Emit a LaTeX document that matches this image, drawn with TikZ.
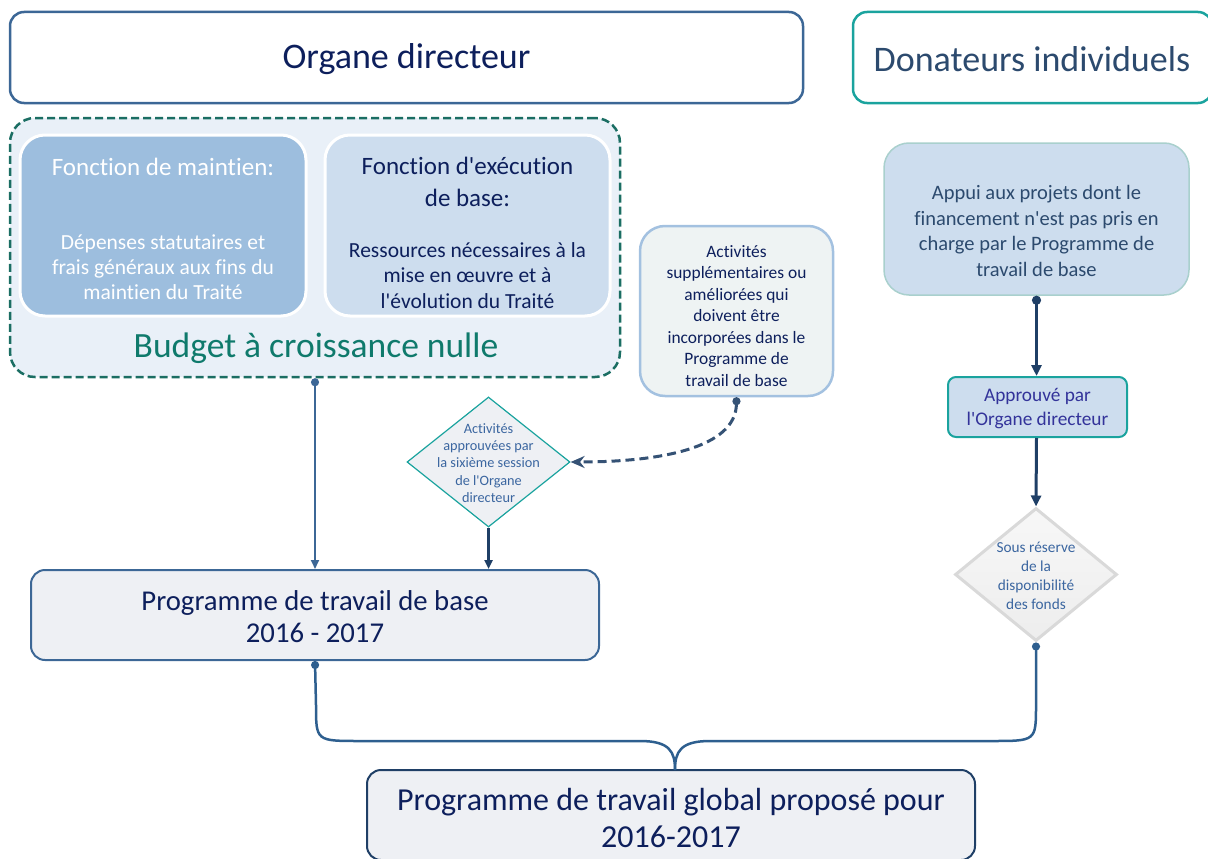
\documentclass[tikz,border=0pt]{standalone}
\usepackage{fontspec}
\newfontfamily\calfont{Carlito}[Ligatures=NoCommon]
\usetikzlibrary{shapes.geometric,arrows.meta}

\definecolor{navyText}{HTML}{0D1F5C}
\definecolor{slateText}{HTML}{2C4A6E}
\definecolor{frameBlue}{HTML}{3C6796}
\definecolor{frameTeal}{HTML}{1AA39E}
\definecolor{dashTeal}{HTML}{1B6E63}
\definecolor{budgetTeal}{HTML}{0F7A6C}
\definecolor{paleBlue}{HTML}{E9F0F8}
\definecolor{midBlue}{HTML}{9DBEDE}
\definecolor{lightBlue}{HTML}{CDDDEE}
\definecolor{paleGrey}{HTML}{EEF0F4}
\definecolor{paleMint}{HTML}{EEF3F3}
\definecolor{edgeBlue}{HTML}{A3C1E0}
\definecolor{edgeMint}{HTML}{A9D0CD}
\definecolor{arrowNavy}{HTML}{1F3F66}
\definecolor{linkBlue}{HTML}{2E5F8F}
\definecolor{approveText}{HTML}{33339A}
\definecolor{diamondText}{HTML}{3B66A0}
\definecolor{greyEdge}{HTML}{D9D9D9}

\newcommand{\fsz}[2]{\calfont\fontsize{#1}{#2}\selectfont}

\tikzset{
  box/.style={rectangle, inner sep=0pt},
  txt/.style={align=center, inner sep=0pt},
  flow/.style={line width=2pt, draw=frameBlue, -{Triangle[length=9pt,width=8pt]}},
  thickflow/.style={line width=3pt, draw=arrowNavy, {Circle[length=9pt]}-{Triangle[length=11pt,width=10pt]}},
}

\begin{document}
\begin{tikzpicture}[x=1pt,y=-1pt]
\useasboundingbox (0,0) rectangle (1208,859);
\clip (0,0) rectangle (1208,859);

% header boxes
\node[box, draw=frameBlue, line width=2.5pt, rounded corners=14pt,
  minimum width=793pt, minimum height=91pt] (od) at (406.5,57.5) {};
\node[txt, text=navyText, font=\fsz{36}{40}] (odtext) at (406.5,59) {Organe directeur};
\node[box, draw=frameTeal, line width=2.5pt, rounded corners=14pt,
  minimum width=359pt, minimum height=91pt] (don) at (1032.5,57.5) {};
\node[txt, text=slateText, font=\fsz{36}{40}] (dontext) at (1032,59) {Donateurs individuels};

% zero-growth budget block
\node[box, draw=dashTeal, fill=paleBlue, line width=2.5pt, dash pattern=on 8pt off 4pt,
  rounded corners=25pt, minimum width=610pt, minimum height=259pt]
  (zg) at (315,247.5) {};
\node[box, draw=white, fill=midBlue, line width=3pt, rounded corners=25pt,
  minimum width=286pt, minimum height=181pt] (maint) at (163,225.5) {};
\node[box, draw=white, fill=lightBlue, line width=3pt, rounded corners=25pt,
  minimum width=285pt, minimum height=181pt] (exec) at (467.5,225.5) {};
\node[txt, text=white, font=\fsz{25}{30}] (mainthead) at (163,167) {Fonction de maintien:};
\node[txt, text=white, font=\fsz{21.5}{25}] (maintbody) at (163,267)
  {Dépenses statutaires et\\frais généraux aux fins du\\maintien du Traité};
\node[txt, text=navyText, font=\fsz{25}{32}] (exechead) at (467.5,182)
  {Fonction d'exécution\\de base:};
\node[txt, text=navyText, font=\fsz{21.5}{25.5}] (execbody) at (467.5,275.5)
  {Ressources nécessaires à la\\mise en œuvre et à\\l'évolution du Traité};
\node[txt, text=budgetTeal, font=\fsz{35.5}{40}] (budget) at (316,348) {Budget à croissance nulle};

% additional activities
\node[box, draw=edgeBlue, fill=paleMint, line width=2.5pt, rounded corners=25pt,
  minimum width=193pt, minimum height=170pt] (act) at (736.5,311) {};
\node[txt, text=navyText, font=\fsz{17.4}{21.5}] (acttext) at (736.5,316)
  {Activités\\supplémentaires ou\\améliorées qui\\doivent être\\incorporées dans le\\Programme de\\travail de base};

\node[diamond, draw=frameTeal, fill=paleGrey, line width=1.2pt, inner sep=0pt,
  minimum width=163pt, minimum height=130pt] (d1) at (488.5,462) {};
\node[txt, text=diamondText, font=\fsz{14.3}{17.25}] (d1text) at (488.5,463)
  {Activités\\approuvées par\\la sixième session\\de l'Organe\\directeur};

\draw[line width=3pt, draw=arrowNavy!90, dash pattern=on 9pt off 5pt,
  {Circle[length=8pt]}-{Stealth[length=14pt,width=12pt]}]
  (act.south) .. controls (736,448) and (660,462) .. (d1.east);

% core programme of work
\node[box, draw=frameBlue, fill=paleGrey, line width=2pt, rounded corners=14pt,
  minimum width=568pt, minimum height=90pt] (ptb) at (315,615) {};
\node[txt, text=navyText, font=\fsz{28.7}{32}] (ptbtext) at (315,617)
  {Programme de travail de base\\2016 - 2017};

\draw[flow, {Circle[length=8pt]}-{Triangle[length=9pt,width=8pt]}] (zg.south) -- (ptb.north);
\draw[flow, line width=2.5pt, draw=arrowNavy] (d1.south) -- (d1.south |- ptb.north);

% individual donors column
\node[box, draw=edgeMint, fill=lightBlue, line width=1.5pt, rounded corners=25pt,
  minimum width=305pt, minimum height=152pt] (appui) at (1036.5,219) {};
\node[txt, text=slateText, font=\fsz{20.5}{25.7}] (appuitext) at (1036.5,231)
  {Appui aux projets dont le\\financement n'est pas pris en\\charge par le Programme de\\travail de base};
\node[box, draw=frameTeal, fill=lightBlue, line width=2pt, rounded corners=8pt,
  minimum width=179pt, minimum height=60pt] (appr) at (1037.5,407) {};
\node[txt, text=approveText, font=\fsz{19.3}{24}] (apprtext) at (1037.5,408.5)
  {Approuvé par\\l'Organe directeur};
\node[diamond, draw=greyEdge, top color=gray!6, bottom color=gray!14, line width=3pt,
  inner sep=0pt, minimum width=162pt, minimum height=133pt] (d2) at (1036,574.5) {};
\node[txt, text=diamondText, font=\fsz{15.3}{19}] (d2text) at (1036,575.5)
  {Sous réserve\\de la\\disponibilité\\des fonds};

\draw[thickflow] (appui.south) -- (appui.south |- appr.north);
\draw[thickflow, -{Triangle[length=11pt,width=10pt]}] (appui.south |- appr.south) -- (d2.north);

% overall programme of work
\node[box, draw=arrowNavy, fill=paleGrey, line width=2pt, rounded corners=14pt,
  minimum width=608pt, minimum height=90pt] (glob) at (671,815) {};
\node[txt, text=navyText, font=\fsz{32}{36}] (globtext) at (671,818)
  {Programme de travail global proposé pour\\2016-2017};

\coordinate (meet) at (675,770);
\draw[line width=2.5pt, draw=linkBlue, {Circle[length=8pt]}-]
  (ptb.south) -- (316,705) .. controls (316,741) .. (360,741) -- (640,741)
  .. controls (670,741) and (675,752) .. (meet);
\draw[line width=2.5pt, draw=linkBlue, {Circle[length=8pt]}-]
  (d2.south) -- (1036,705) .. controls (1036,741) .. (992,741) -- (710,741)
  .. controls (680,741) and (675,752) .. (meet);
\end{tikzpicture}
\end{document}
